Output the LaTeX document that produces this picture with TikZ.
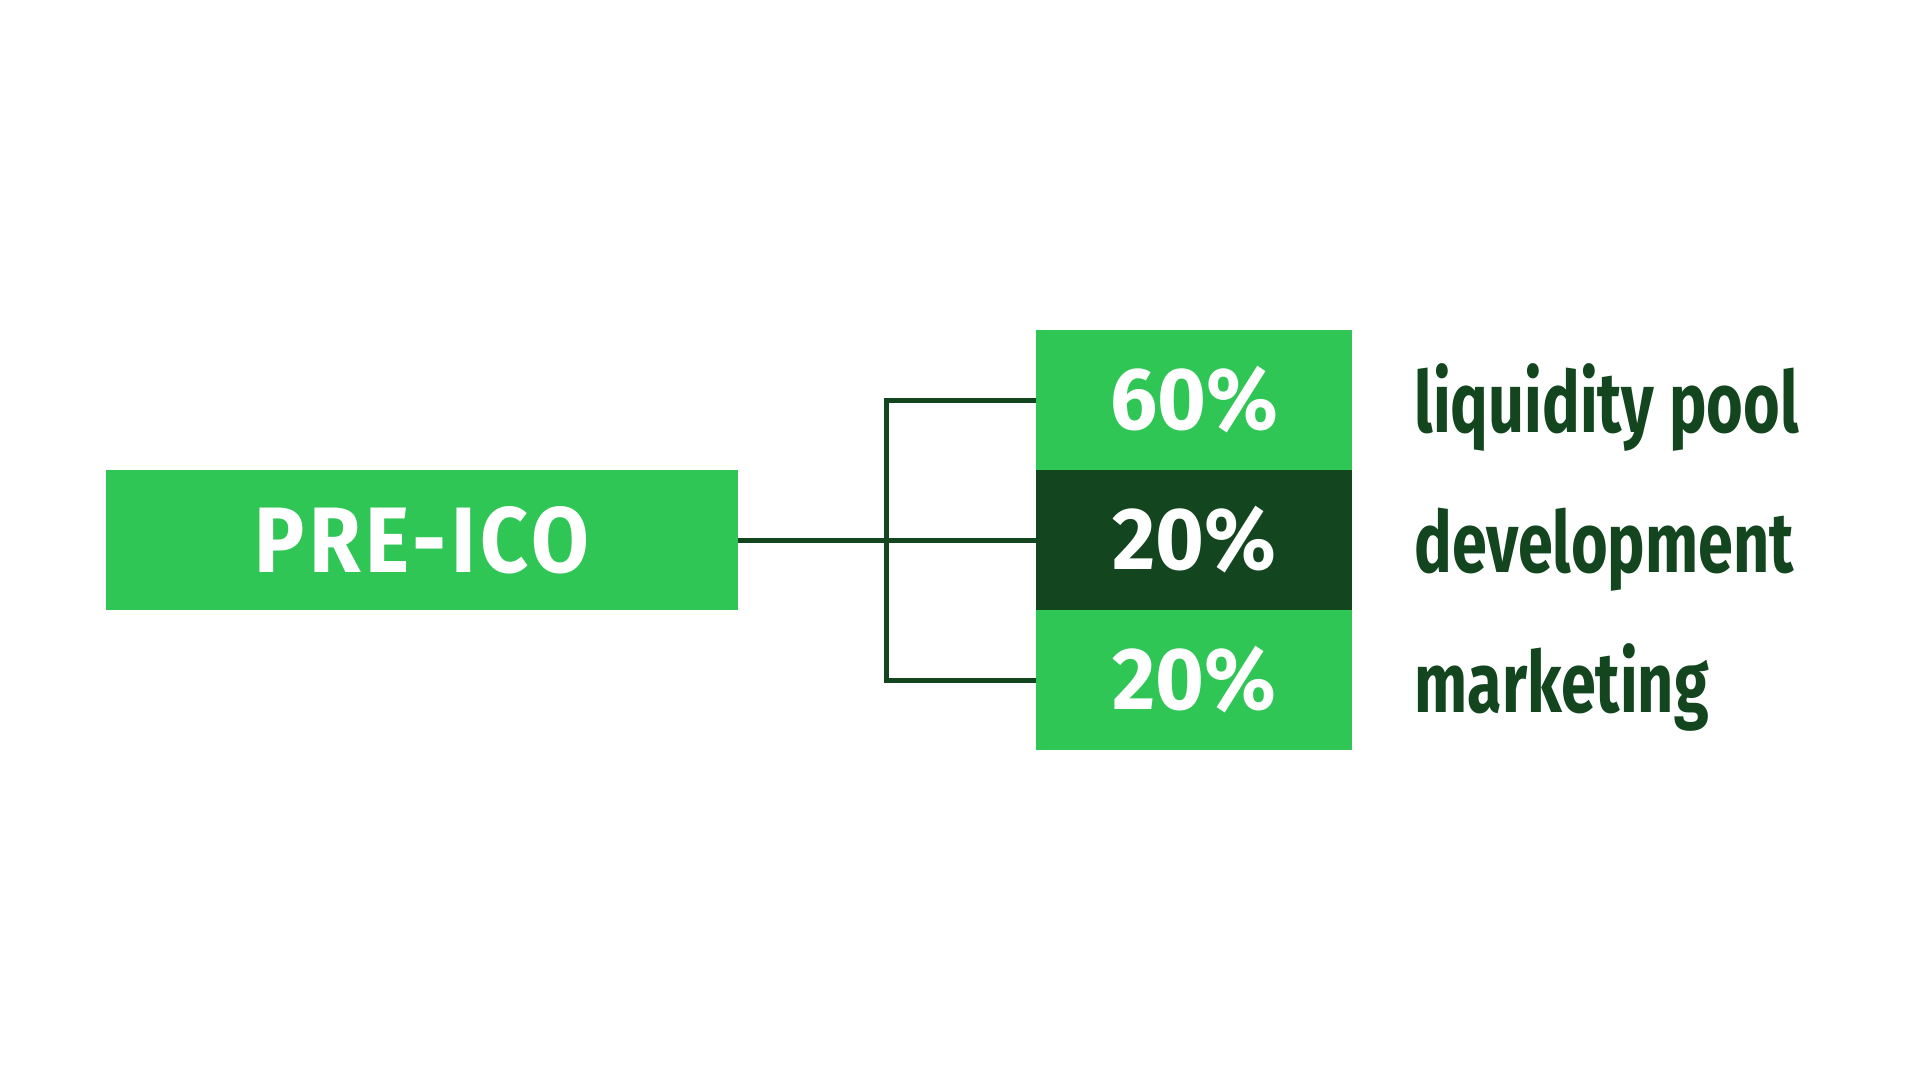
\documentclass[tikz,border=0pt]{standalone}
\usepackage{fontspec}
\setmainfont{Fira Sans}
\newfontfamily\titlefont[FakeStretch=0.90,LetterSpace=5]{Fira Sans}
\newfontfamily\pctfont[FakeStretch=0.95]{Fira Sans}
\newfontfamily\labfont[FakeStretch=0.74]{Fira Sans}
\definecolor{lgreen}{HTML}{2FC655}
\definecolor{dgreen}{HTML}{13461F}
\begin{document}
\begin{tikzpicture}[x=0.5pt,y=-0.5pt,
  greenbox/.style={fill=lgreen,inner sep=0,minimum height=70pt},
  pctbox/.style={inner sep=0,minimum width=158pt,minimum height=70pt,text=white,font=\pctfont\bfseries\fontsize{44}{44}\selectfont},
  lab/.style={anchor=base west,inner sep=0,text=dgreen,font=\labfont\bfseries\fontsize{42.5}{42.5}\selectfont},
  conn/.style={draw=dgreen,line width=2.5pt}]
\useasboundingbox (0,0) rectangle (1920,1080);
\fill[white] (0,0) rectangle (1920,1080);
\node[greenbox,minimum width=316pt,text=white,font=\titlefont\bfseries\fontsize{46.5}{46.5}\selectfont] (pre) at (422,540) {PRE-ICO};
\node[pctbox,fill=lgreen] (b1) at (1194,400) {60\%};
\node[pctbox,fill=dgreen] (b2) at (1194,540) {20\%};
\node[pctbox,fill=lgreen] (b3) at (1194,680) {20\%};
\node[lab] (l1) at (1414,432) {liquidity pool};
\node[lab] (l2) at (1414,572) {development};
\node[lab] (l3) at (1414,712) {marketing};
\coordinate (j) at (886,540);
\draw[conn] (pre.east) -- (b2.west);
\draw[conn] (b1.west) -| (j) |- (b3.west);
\end{tikzpicture}
\end{document}
